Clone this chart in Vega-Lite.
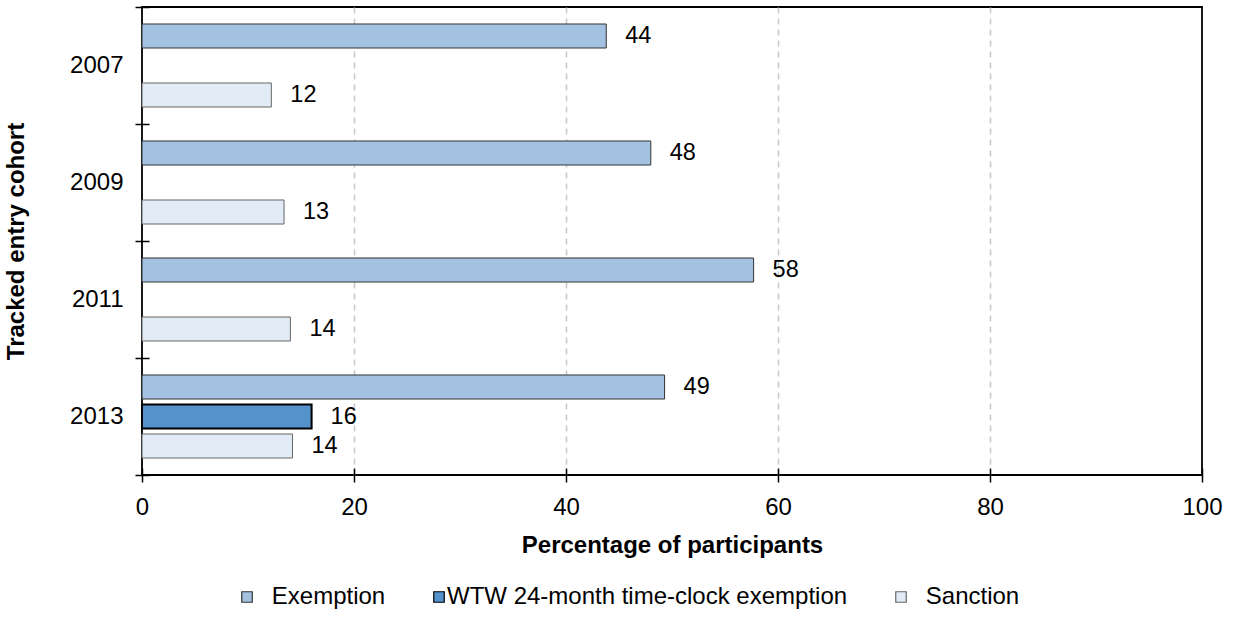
{
  "$schema": "https://vega.github.io/schema/vega-lite/v6.json",
  "autosize": "none",
  "width": 1060,
  "height": 468,
  "padding": {"left": 142, "top": 7, "right": 32, "bottom": 142},
  "background": "white",
  "config": {
    "font": "Liberation Sans",
    "view": {"stroke": "black", "strokeWidth": 1.8},
    "axis": {"labelFont": "Liberation Sans", "titleFont": "Liberation Sans", "labelColor": "black", "titleColor": "black"}
  },
  "data": {"values": [
    {"cohort": "2007", "series": "Exemption", "value": 43.8},
    {"cohort": "2007", "series": "Sanction", "value": 12.2},
    {"cohort": "2009", "series": "Exemption", "value": 48.0},
    {"cohort": "2009", "series": "Sanction", "value": 13.4},
    {"cohort": "2011", "series": "Exemption", "value": 57.7},
    {"cohort": "2011", "series": "Sanction", "value": 14.0},
    {"cohort": "2013", "series": "Exemption", "value": 49.3},
    {"cohort": "2013", "series": "WTW 24-month time-clock exemption", "value": 16.0},
    {"cohort": "2013", "series": "Sanction", "value": 14.2}
  ]},
  "encoding": {
    "y": {
      "field": "cohort", "type": "nominal",
      "scale": {"paddingInner": 0, "paddingOuter": 0},
      "axis": {
        "title": "Tracked entry cohort", "titleFontSize": 24, "titleFontWeight": "bold", "titlePadding": 41,
        "labelFontSize": 24, "labelPadding": 12, "tickBand": "extent",
        "domain": false, "offset": -7, "tickSize": 14, "tickColor": "black", "tickWidth": 1.5
      }
    },
    "yOffset": {
      "field": "series", "type": "nominal",
      "scale": {"domain": ["Exemption", "WTW 24-month time-clock exemption", "Sanction"], "paddingInner": 0.186, "paddingOuter": 0.576}
    },
    "x": {
      "field": "value", "type": "quantitative",
      "scale": {"domain": [0, 100], "nice": false},
      "axis": {
        "title": "Percentage of participants", "titleFontSize": 24, "titleFontWeight": "bold", "titlePadding": 14,
        "labelFontSize": 24, "labelPadding": 13, "labelFlush": false, "values": [0, 20, 40, 60, 80, 100],
        "domain": false, "offset": -7, "tickSize": 14, "tickColor": "black", "tickWidth": 1.5,
        "grid": true, "gridDash": [6, 5], "gridWidth": 1.5,
        "gridColor": {"condition": {"test": "datum.value === 0 || datum.value === 100", "value": "transparent"}, "value": "#c8c8c8"}
      }
    }
  },
  "layer": [
    {
      "mark": {"type": "bar", "height": {"band": 1}},
      "encoding": {
        "color": {
          "field": "series", "type": "nominal",
          "scale": {"domain": ["Exemption", "WTW 24-month time-clock exemption", "Sanction"], "range": ["#a3c1e0", "#5592cb", "#e1ebf5"]},
          "legend": {
            "title": null, "orient": "none", "direction": "horizontal", "legendX": 93, "legendY": 578,
            "symbolType": "square", "symbolSize": 110, "symbolStrokeWidth": 1.2,
            "labelFontSize": 24, "labelFont": "Liberation Sans", "labelColor": "black", "labelOffset": -4, "columnPadding": 41, "labelLimit": 600,
            "labelExpr": "datum.label === 'WTW 24-month time-clock exemption' ? datum.label : '\u200b\u2002\u2009' + datum.label"
          }
        },
        "stroke": {
          "field": "series", "type": "nominal",
          "scale": {"domain": ["Exemption", "WTW 24-month time-clock exemption", "Sanction"], "range": ["#333333", "#000000", "#666666"]}
        },
        "strokeWidth": {"condition": {"test": "datum.series === 'WTW 24-month time-clock exemption'", "value": 2}, "value": 1}
      }
    },
    {
      "mark": {"type": "text", "align": "left", "baseline": "middle", "dx": 19, "fontSize": 23.5, "font": "Liberation Sans", "color": "black"},
      "encoding": {
        "text": {"field": "value", "type": "quantitative", "format": ".0f"}
      }
    }
  ]
}
